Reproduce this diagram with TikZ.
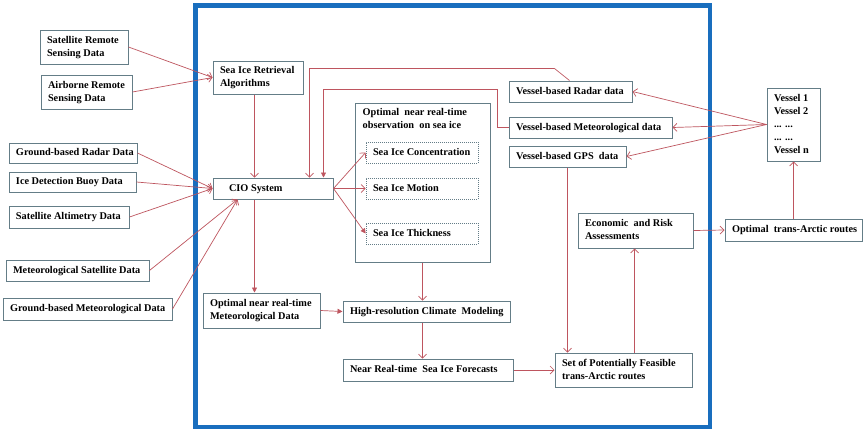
\documentclass[tikz,border=0pt]{standalone}
\usepackage{fontspec}
\setmainfont{Liberation Serif}
\usetikzlibrary{arrows.meta,calc}
\definecolor{boxc}{RGB}{100,125,135}
\definecolor{arrc}{RGB}{190,85,95}
\definecolor{framec}{RGB}{25,110,190}
\newcommand\drbox[7][]{\node[bx,#1,minimum width={(#5-#3)*1pt},minimum height={(#6-#4)*1pt}] (#2) at ({(#3+#5)/2},{(#4+#6)/2}) {\makebox[\dimexpr #5pt-#3pt-14pt\relax][l]{\begin{tabular}{@{}l@{}}#7\end{tabular}}};}
\begin{document}
\begin{tikzpicture}[x=1pt,y=-1pt,
  font=\fontsize{10.3}{13}\selectfont\bfseries,
  bx/.style={draw=boxc, line width=1pt, fill=white, inner sep=0pt, text=black},
  dbx/.style={bx, densely dotted, line width=0.7pt},
  ar/.style={draw=arrc, line width=0.7pt, -{Straight Barb[length=4pt,width=8pt]}},
  arf/.style={draw=arrc, line width=0.7pt, -{Triangle[length=5pt,width=5pt]}}]
\useasboundingbox (0,0) rectangle (863,429);
\fill[white] (0,0) rectangle (863,429);
\draw[framec, line width=4.5pt] (195.5,5.5) rectangle (710,427);

% left inputs
\drbox{srs}{40}{30}{128}{64}{Satellite Remote\\Sensing Data}
\drbox{ars}{41}{75}{132}{109}{Airborne Remote\\Sensing Data}
\drbox{gbr}{9}{143}{137}{163}{Ground-based Radar Data}
\drbox{idb}{9}{172}{136}{192}{Ice Detection Buoy Data}
\drbox{sad}{9}{206}{129}{228}{Satellite Altimetry Data}
\drbox{msd}{6}{260}{149}{281}{Meteorological Satellite Data}
\drbox{gbm}{3}{298}{172}{320}{Ground-based Meteorological Data}

% inside
\drbox{sira}{213}{61}{303}{94}{Sea Ice Retrieval\\Algorithms}
\drbox{cio}{213}{178}{333}{199}{\hspace*{9pt}CIO System}
\drbox{omd}{203}{293}{320}{328}{Optimal near real-time\\Meteorological Data}
\drbox{obs}{355}{103}{490}{262}{}
\node[anchor=north west, inner sep=0pt, align=left] (obsh) at ([xshift=8pt,yshift=-6pt]obs.north west) {Optimal\ \ near real-time\\observation\ \ on sea ice};
\drbox[dbx]{sic}{366}{142}{478}{163}{Sea Ice Concentration}
\drbox[dbx]{sim}{366}{178}{478}{199}{Sea Ice Motion}
\drbox[dbx]{sit}{366}{223}{478}{244}{Sea Ice Thickness}
\drbox{hrcm}{343}{301}{510}{322}{High-resolution Climate\ \ Modeling}
\drbox{nrt}{343}{359}{513}{381}{Near Real-time\ \ Sea Ice Forecasts}
\drbox{vr}{509}{81}{632}{102}{Vessel-based Radar data}
\drbox{vm}{509}{117}{672}{138}{Vessel-based Meteorological data}
\drbox{vg}{509}{146}{626}{167}{Vessel-based GPS\ \ data}
\drbox{era}{578}{213}{693}{248}{Economic\ \ and Risk\\Assessments}
\drbox{spf}{555}{353}{692}{387}{Set of Potentially Feasible\\trans-Arctic routes}

% right
\drbox{vl}{767}{88}{820}{161}{Vessel 1\\Vessel 2\\... ...\\... ...\\Vessel n}
\drbox{otr}{725}{219}{862}{241}{Optimal\ \ trans-Arctic routes}

% connectors
\draw[ar] (srs.east) -- (sira.west);
\draw[ar] (ars.east) -- (sira.west);
\draw[ar] ([xshift=42pt]sira.south west) -- ([xshift=42pt]cio.north west);
\draw[ar] (gbr.east) -- (cio.west);
\draw[ar] (idb.east) -- (cio.west);
\draw[ar] (sad.east) -- (cio.west);
\draw[ar] (msd.east) -- ([xshift=25pt]cio.south west);
\draw[ar] (gbm.east) -- ([xshift=25pt]cio.south west);
\draw[arf] ([xshift=42pt]cio.south west) -- ([xshift=52pt]omd.north west);
\draw[ar] (cio.east) -- (sic.west);
\draw[ar] (cio.east) -- (sim.west);
\draw[arf] (cio.east) -- (sit.west);
\draw[ar] ([xshift=61pt]vr.north west) -- ++(-15,-12) -| ([xshift=97pt]cio.north west);
\draw[arf] (vm.west) -- ++(-11,0) -- ++(0,-38.5) -| ([xshift=111pt]cio.north west);
\draw[ar] ([xshift=59pt]vg.south west) -- ([xshift=13pt]spf.north west);
\draw[ar] (vl.west) -- (vr.east);
\draw[ar] (vl.west) -- (vm.east);
\draw[ar] (vl.west) -- (vg.east);
\draw[ar] (otr.north) -- (vl.south);
\draw[ar] (era.east) -- (otr.west);
\draw[ar] ([xshift=80pt]spf.north west) -- ([xshift=57pt]era.south west);
\draw[arf] (omd.east) -- (hrcm.west);
\draw[ar] (obs.south) -- (obs.south |- hrcm.north);
\draw[ar] (hrcm.south -| obs.south) -- (nrt.north -| obs.south);
\draw[ar] (nrt.east) -- (spf.west);
\end{tikzpicture}
\end{document}
